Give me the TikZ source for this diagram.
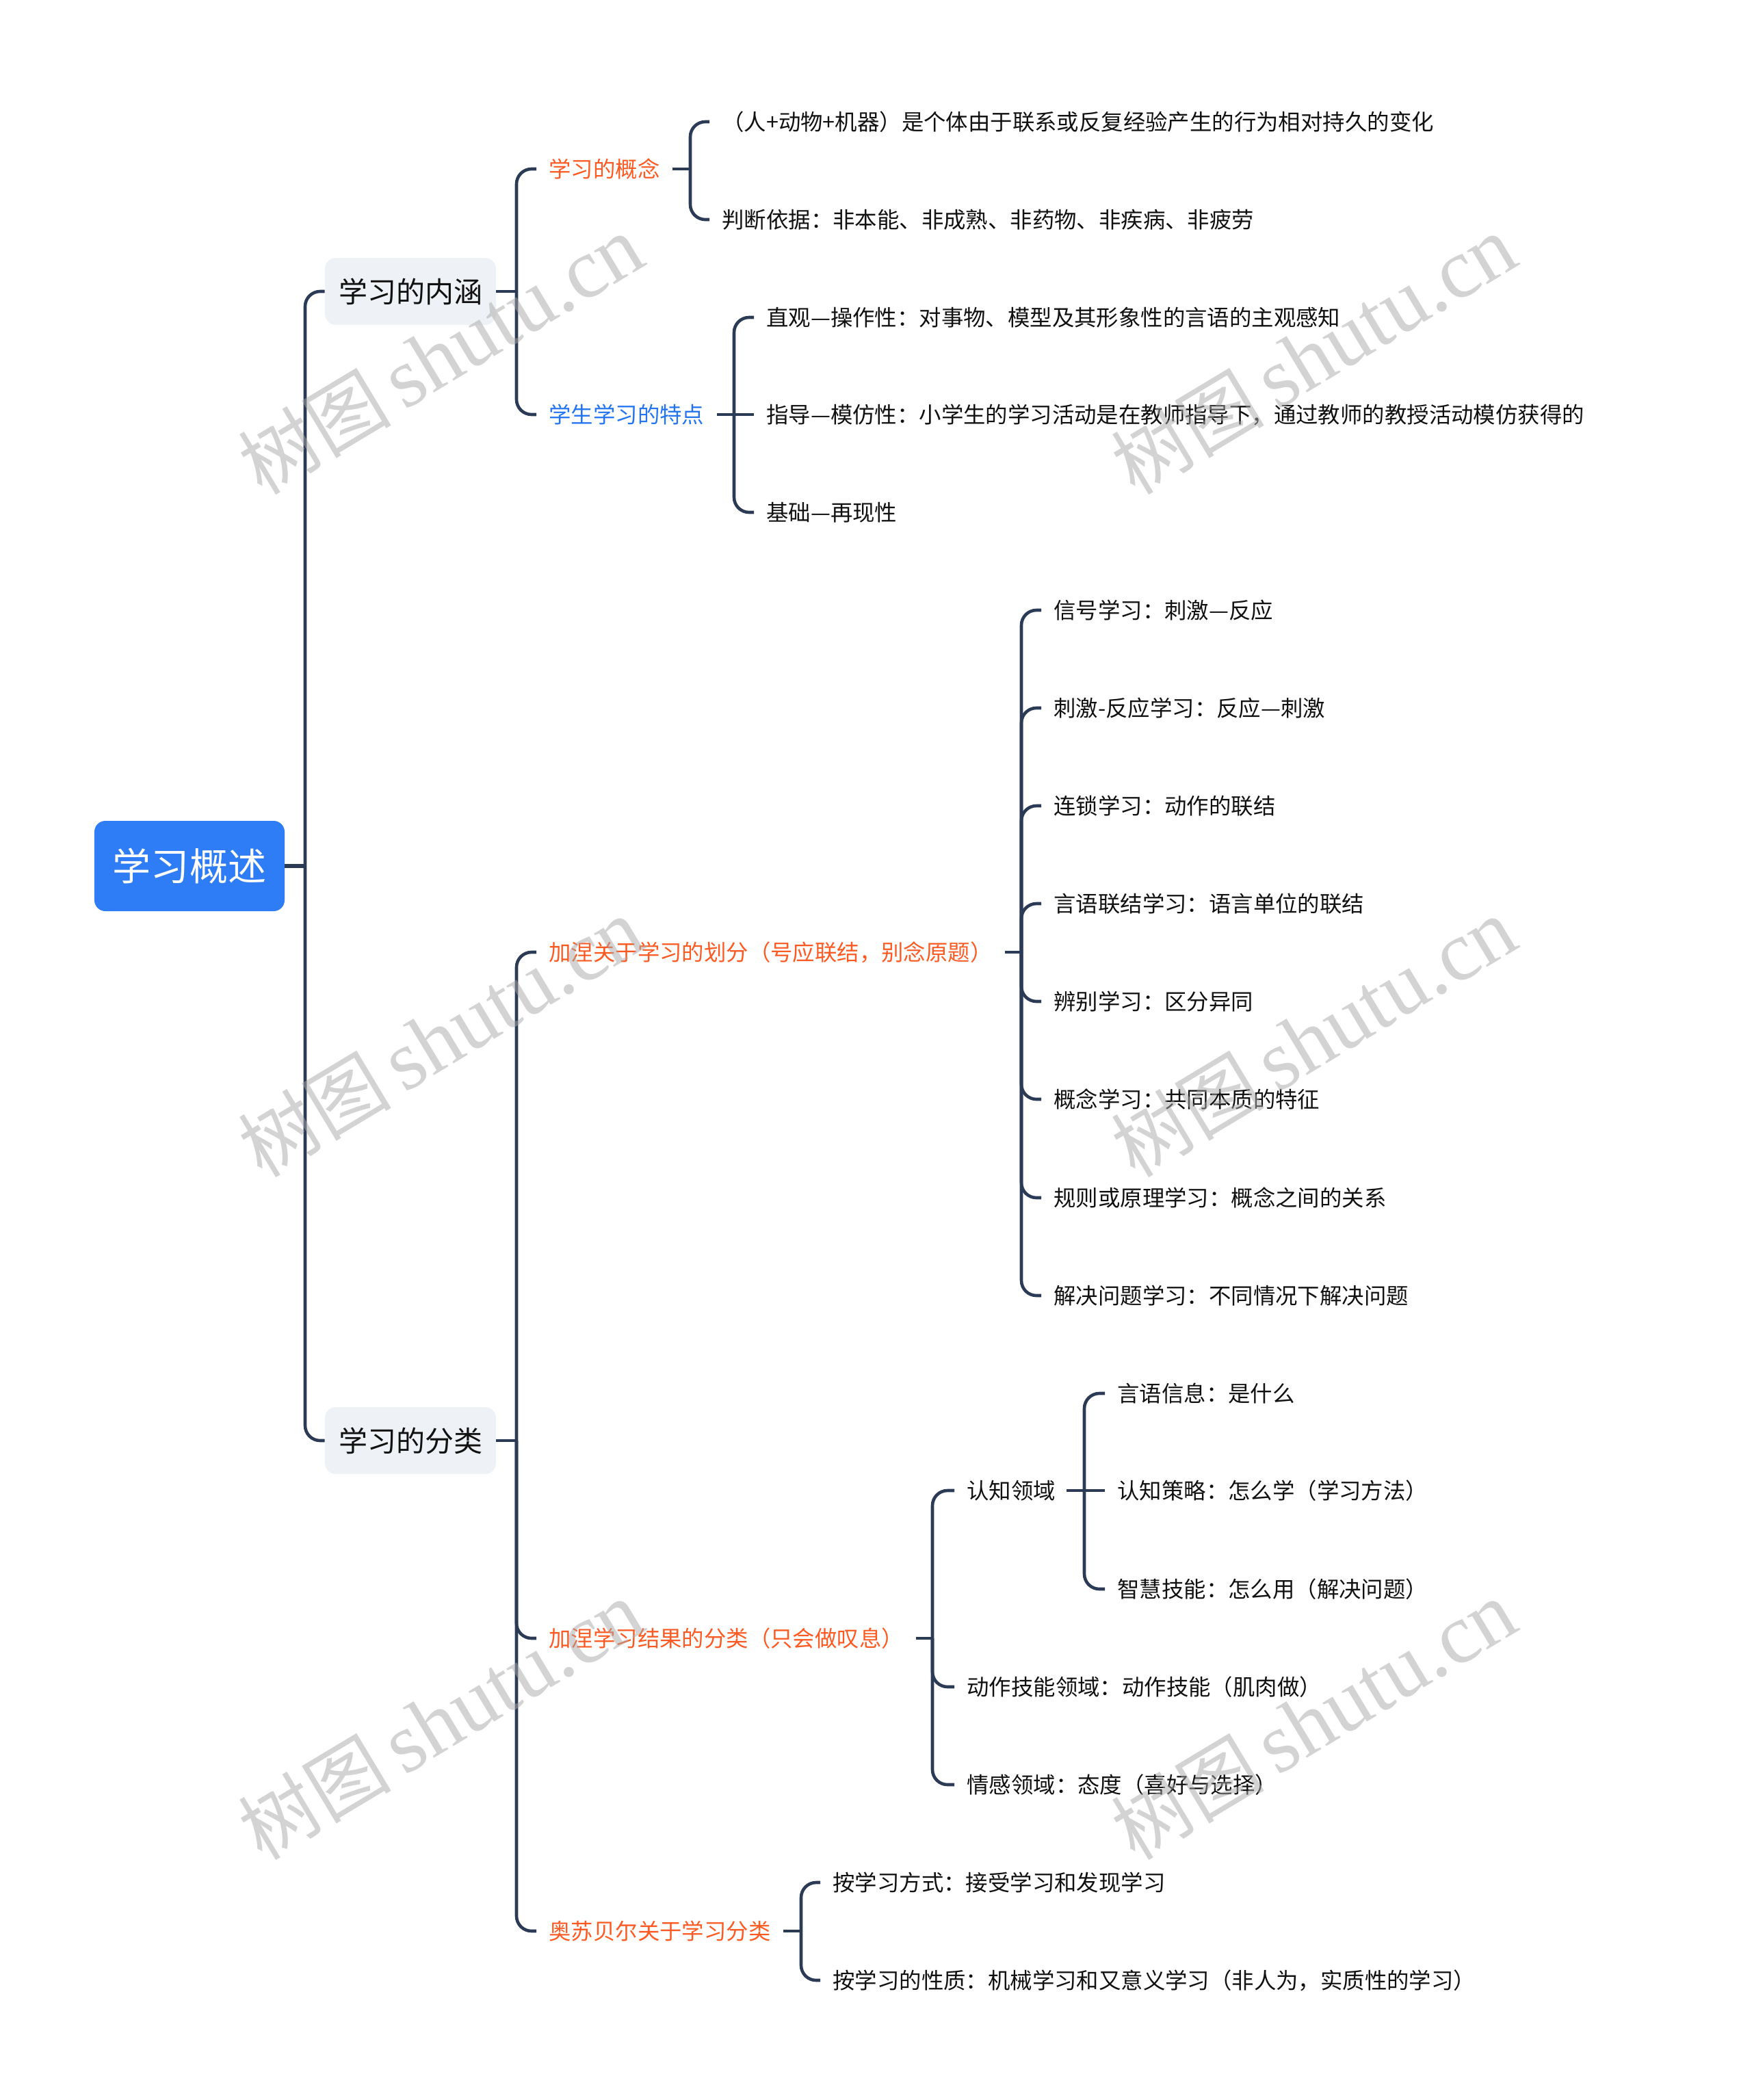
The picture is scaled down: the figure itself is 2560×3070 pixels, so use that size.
\documentclass[tikz,border=0pt]{standalone}
\usepackage{fontspec}
\newfontfamily\cjk{Noto Sans CJK SC}
\newfontfamily\wmlat{Liberation Serif}
\definecolor{linec}{HTML}{2C3B55}
\definecolor{orangec}{HTML}{FC5A22}
\definecolor{bluec}{HTML}{2274F2}
\definecolor{rootc}{HTML}{2E7CF6}
\definecolor{boxc}{HTML}{EEF1F5}
\definecolor{textc}{HTML}{111111}
\definecolor{wmc}{HTML}{A8A8A8}
\tikzset{
  conn/.style={draw=linec, line width=2.3bp, rounded corners=11bp},
  txt/.style={anchor=west, inner sep=0pt, font=\cjk\fontsize{16.2bp}{19bp}\selectfont, text=textc},
  org/.style={txt, text=orangec},
  blu/.style={txt, text=bluec},
  lvl/.style={fill=boxc, rounded corners=8bp, minimum width=125bp, minimum height=49bp, inner sep=0pt, text=textc, font=\cjk\fontsize{21bp}{24bp}\selectfont},
  rootbox/.style={fill=rootc, rounded corners=8bp, minimum width=139bp, minimum height=66bp, inner sep=0pt, text=white, font=\cjk\fontsize{28bp}{32bp}\selectfont},
  wm/.style={text=wmc, opacity=0.5, rotate=31, inner sep=0pt}
}
\begin{document}
\begin{tikzpicture}[x=0.5bp, y=-0.5bp]
\useasboundingbox (0,0) rectangle (2560,3070);

% root and level 1
\node[rootbox] (root) at (277,1266) {学习概述};
\node[lvl] (n1) at (600,426) {学习的内涵};
\node[lvl] (n2) at (600,2106) {学习的分类};
\coordinate (jt) at (446,1266);
\draw[conn, line width=3bp] (root.east) -- (jt);
\draw[conn] (jt) |- (n1.west);
\draw[conn] (jt) |- (n2.west);

% level 2 under n1
\coordinate (j1) at (755,426);
\node[org] (a1) at (802,247) {学习的概念};
\node[blu] (a2) at (802,606) {学生学习的特点};
\draw[conn] (n1.east) -- (j1);
\draw[conn] (j1) |- ([xshift=-9bp]a1.west);
\draw[conn] (j1) |- ([xshift=-9bp]a2.west);

% a1 children
\coordinate (ja1) at (1009,247);
\node[txt] (a11) at (1055,178) {（人+动物+机器）是个体由于联系或反复经验产生的行为相对持久的变化};
\node[txt] (a12) at (1055,321) {判断依据：非本能、非成熟、非药物、非疾病、非疲劳};
\draw[conn] ([xshift=9bp]a1.east) -- (ja1);
\draw[conn] (ja1) |- ([xshift=-9bp]a11.west);
\draw[conn] (ja1) |- ([xshift=-9bp]a12.west);

% a2 children
\coordinate (ja2) at (1073,606);
\node[txt] (a21) at (1120,464) {直观—操作性：对事物、模型及其形象性的言语的主观感知};
\node[txt] (a22) at (1120,606) {指导—模仿性：小学生的学习活动是在教师指导下，通过教师的教授活动模仿获得的};
\node[txt] (a23) at (1120,749) {基础—再现性};
\draw[conn] ([xshift=9bp]a2.east) -- (ja2);
\draw[conn] (ja2) |- ([xshift=-9bp]a21.west);
\draw[conn] (ja2) -- ([xshift=-9bp]a22.west);
\draw[conn] (ja2) |- ([xshift=-9bp]a23.west);

% level 2 under n2
\coordinate (j2) at (755,2106);
\node[org] (b1) at (802,1392) {加涅关于学习的划分（号应联结，别念原题）};
\node[org] (b2) at (802,2395) {加涅学习结果的分类（只会做叹息）};
\node[org] (b3) at (802,2823) {奥苏贝尔关于学习分类};
\draw[conn] (n2.east) -- (j2);
\draw[conn] (j2) |- ([xshift=-9bp]b1.west);
\draw[conn] (j2) |- ([xshift=-9bp]b2.west);
\draw[conn] (j2) |- ([xshift=-9bp]b3.west);

% b1 children
\coordinate (jb1) at (1493,1392);
\node[txt] (g1) at (1540,892) {信号学习：刺激—反应};
\node[txt] (g2) at (1540,1035) {刺激-反应学习：反应—刺激};
\node[txt] (g3) at (1540,1178) {连锁学习：动作的联结};
\node[txt] (g4) at (1540,1321) {言语联结学习：语言单位的联结};
\node[txt] (g5) at (1540,1464) {辨别学习：区分异同};
\node[txt] (g6) at (1540,1607) {概念学习：共同本质的特征};
\node[txt] (g7) at (1540,1751) {规则或原理学习：概念之间的关系};
\node[txt] (g8) at (1540,1894) {解决问题学习：不同情况下解决问题};
\draw[conn] ([xshift=9bp]b1.east) -- (jb1);
\foreach \k in {g1,g2,g3,g4,g5,g6,g7,g8}
  \draw[conn] (jb1) |- ([xshift=-9bp]\k.west);

% b2 children
\coordinate (jb2) at (1363,2395);
\node[txt] (c1) at (1413,2179) {认知领域};
\node[txt] (c2) at (1413,2466) {动作技能领域：动作技能（肌肉做）};
\node[txt] (c3) at (1413,2609) {情感领域：态度（喜好与选择）};
\draw[conn] ([xshift=9bp]b2.east) -- (jb2);
\draw[conn] (jb2) |- ([xshift=-9bp]c1.west);
\draw[conn] (jb2) |- ([xshift=-9bp]c2.west);
\draw[conn] (jb2) |- ([xshift=-9bp]c3.west);

% c1 children
\coordinate (jc1) at (1585,2179);
\node[txt] (d1) at (1633,2037) {言语信息：是什么};
\node[txt] (d2) at (1633,2179) {认知策略：怎么学（学习方法）};
\node[txt] (d3) at (1633,2323) {智慧技能：怎么用（解决问题）};
\draw[conn] ([xshift=8bp]c1.east) -- (jc1);
\draw[conn] (jc1) |- ([xshift=-9bp]d1.west);
\draw[conn] (jc1) -- ([xshift=-9bp]d2.west);
\draw[conn] (jc1) |- ([xshift=-9bp]d3.west);

% b3 children
\coordinate (jb3) at (1171,2823);
\node[txt] (e1) at (1217,2752) {按学习方式：接受学习和发现学习};
\node[txt] (e2) at (1217,2895) {按学习的性质：机械学习和又意义学习（非人为，实质性的学习）};
\draw[conn] ([xshift=9bp]b3.east) -- (jb3);
\draw[conn] (jb3) |- ([xshift=-9bp]e1.west);
\draw[conn] (jb3) |- ([xshift=-9bp]e2.west);

% watermarks
\foreach \wx/\wy [count=\i] in {644/519, 1920/519, 644/1517, 1920/1517, 644/2515, 1920/2515}
  \node[wm] (wm\i) at (\wx,\wy) {\cjk\fontsize{56bp}{58bp}\selectfont 树图\,\wmlat\fontsize{62bp}{64bp}\selectfont shutu.cn};
\end{tikzpicture}
\end{document}
